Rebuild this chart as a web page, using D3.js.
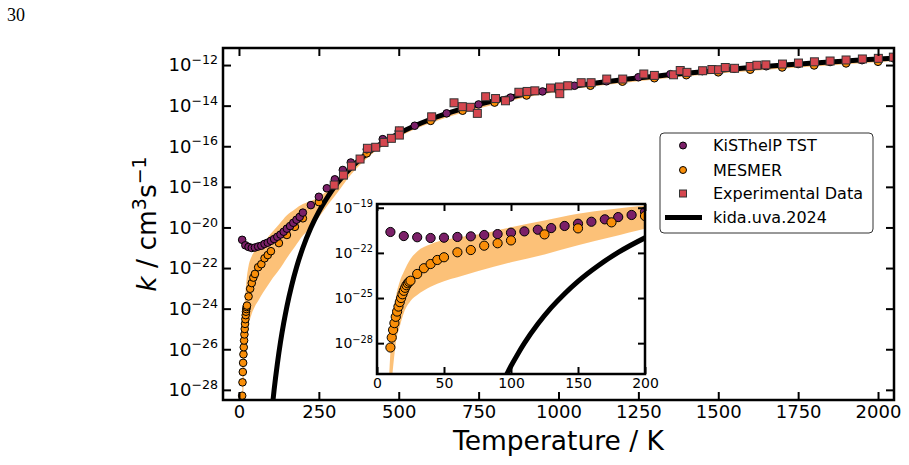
<!DOCTYPE html>
<html>
<head>
<meta charset="utf-8">
<script src="https://cdn.jsdelivr.net/npm/d3@7"></script>
<style>
  body { margin: 0; background: #fff; }
  svg { display: block; }
</style>
</head>
<body>
<svg id="chart" width="909" height="465"></svg>
<script>
// ---- data (temperature in K, rate constant as log10 k) ----
const kisthelpT = [10, 20, 30, 40, 50, 60, 70, 80, 90, 100, 110, 120, 130, 140, 150, 160, 170, 180, 190, 200,
                   225, 250, 275, 300, 325, 350, 400, 450, 500, 550, 650, 750, 850, 950, 1050, 1150, 1250,
                   1350, 1450, 1550, 1650, 1750, 1850, 1950, 2050];
const kisthelpLogK = [-20.61, -20.88, -20.96, -21.01, -20.99, -20.94, -20.9, -20.81, -20.75, -20.66, -20.57, -20.46,
                      -20.35, -20.21, -20.06, -19.93, -19.77, -19.62, -19.48, -19.27,
                      -18.9, -18.49, -18.07, -17.63, -17.17, -16.8, -16.15, -15.65, -15.25, -14.99, -14.38, -13.94,
                      -13.6, -13.3, -13.02, -12.8, -12.6, -12.45, -12.3, -12.18, -12.06, -11.95, -11.85, -11.76, -11.68];

const mesmerT = [10, 11, 12, 13, 14, 15, 16, 17, 18, 19, 20, 21, 22, 23, 24, 25, 30, 35, 40, 45, 50, 60, 70, 80, 90, 100,
                 125, 150, 175, 200, 250, 300, 400, 500, 600, 700, 800, 900, 1000, 1100, 1200, 1300, 1400, 1500,
                 1600, 1700, 1800, 1900, 2000];
const mesmerLogK = [-28.29, -27.63, -27.12, -26.67, -26.25, -25.9, -25.57, -25.27, -25.0, -24.75, -24.52, -24.32,
                    -24.15, -24.02, -23.92, -23.85, -23.4, -23.02, -22.74, -22.47, -22.29, -21.96, -21.81, -21.52,
                    -21.36, -21.17, -20.77, -20.37, -19.97, -19.55, -18.75, -17.85, -16.35, -15.4, -14.75, -14.25,
                    -13.85, -13.5, -13.25, -13.02, -12.82, -12.65, -12.5, -12.36, -12.23, -12.12, -12.02, -11.92, -11.84];

const bandT = [9, 10, 11, 12, 14, 17, 20, 25, 30, 40, 50, 60, 75, 100, 125, 150, 175, 200, 225, 250, 275, 300,
               350, 400, 500, 600, 800, 1000, 1250, 1500, 1750, 2050];
const bandHigh = [-30.3, -28.6, -27.3, -26.4, -25.0, -23.9, -23.25, -22.4, -21.9, -21.42, -21.15, -20.98, -20.78,
                  -20.3, -19.85, -19.4, -19.1, -18.85, -18.7, -18.5, -18.2, -17.85, -17.05, -16.35, -15.38, -14.72,
                  -13.8, -13.2, -12.7, -12.32, -12.04, -11.72];
const bandLow = [-31.5, -31.0, -30.5, -29.6, -28.0, -26.9, -26.0, -25.2, -24.8, -24.25, -23.88, -23.62, -23.22,
                 -22.62, -22.1, -21.5, -20.95, -20.4, -20.0, -19.5, -18.95, -18.45, -17.4, -16.6, -15.55, -14.86,
                 -13.94, -13.3, -12.8, -12.42, -12.12, -11.8];

const expT = [298, 327, 352, 379, 402, 428, 454, 477, 502, 502, 603, 673, 699, 725, 746, 772, 803, 834, 876, 902,
              926, 975, 1003, 1004, 1029, 1071, 1102, 1151, 1201, 1267, 1300, 1360, 1381, 1402, 1451, 1480, 1501,
              1522, 1551, 1600, 1621, 1649, 1701, 1751, 1801, 1850, 1900, 1951, 2001, 2048];
const expLogK = [-17.91, -17.42, -16.98, -16.63, -16.1, -16.05, -15.81, -15.61, -15.24, -15.45, -14.55, -13.86,
                 -14.05, -14.08, -14.38, -13.56, -13.65, -13.76, -13.34, -13.3, -13.27, -13.13, -13.08, -13.41,
                 -13.02, -12.87, -12.87, -12.69, -12.69, -12.44, -12.51, -12.48, -12.27, -12.36, -12.28, -12.22,
                 -12.23, -12.12, -12.16, -12.07, -12.01, -11.99, -11.95, -11.9, -11.84, -11.8, -11.75, -11.7,
                 -11.67, -11.61];

const kidaT = [90, 97, 100, 105, 110, 120, 130, 140, 150, 165, 180, 200, 225, 250, 275, 300, 350, 400, 500, 600,
               700, 800, 1000, 1200, 1400, 1600, 1800, 2000, 2050];
const kidaLogK = [-31.37, -30.04, -29.52, -28.73, -28.0, -26.73, -25.64, -24.71, -23.89, -22.85, -21.97, -21.0,
                  -20.02, -19.22, -18.56, -17.97, -17.07, -16.37, -15.37, -14.67, -14.15, -13.75, -13.15, -12.72,
                  -12.4, -12.12, -11.9, -11.7, -11.66];

const mainXTicks = [0, 250, 500, 750, 1000, 1250, 1500, 1750, 2000];
const mainYTicks = [-12, -14, -16, -18, -20, -22, -24, -26, -28];
const insetXTicks = [0, 50, 100, 150, 200];
const insetYTicks = [-19, -22, -25, -28];

const legendLabels = ["KiSThelP TST", "MESMER", "Experimental Data", "kida.uva.2024"];

const PURPLE = "#7b2068";
const ORANGE = "#f98e09";
const RED = "#d5474f";
const FONT = "DejaVu Sans";

const kisthelp = d3.zip(kisthelpT, kisthelpLogK);
const mesmer = d3.zip(mesmerT, mesmerLogK);
const band = d3.zip(bandT, bandLow, bandHigh);
const exper = d3.zip(expT, expLogK);
const kida = d3.zip(kidaT, kidaLogK);

const svg = d3.select("#chart");
const defs = svg.append("defs");

svg.append("text")
   .attr("x", 7).attr("y", 21)
   .attr("font-family", "Liberation Serif")
   .attr("font-size", 18)
   .text("30");

function supLabels(sel, size) {
  sel.selectAll(".tick text").each(function(d) {
    const t = d3.select(this).text(null);
    t.append("tspan").text("10");
    t.append("tspan")
     .attr("dy", -size * 0.4)
     .attr("font-size", size * 0.7)
     .text("\u2212" + Math.round(-Math.log10(d)));
  });
}

function drawPanel(box, xDomain, yDomain, opts) {
  const x = d3.scaleLinear().domain(xDomain).range([box.left, box.right]);
  const y = d3.scaleLog().domain(yDomain.map(v => Math.pow(10, v))).range([box.bottom, box.top]);
  const g = svg.append("g");

  const clipId = "clip-" + opts.name;
  defs.append("clipPath").attr("id", clipId)
      .append("rect")
      .attr("x", box.left).attr("y", box.top)
      .attr("width", box.right - box.left).attr("height", box.bottom - box.top);

  g.append("rect")
   .attr("x", box.left).attr("y", box.top)
   .attr("width", box.right - box.left).attr("height", box.bottom - box.top)
   .attr("fill", "#fff");

  const data = g.append("g").attr("clip-path", "url(#" + clipId + ")");

  const area = d3.area()
    .x(d => x(d[0]))
    .y0(d => y(Math.pow(10, d[1])))
    .y1(d => y(Math.pow(10, d[2])))
    .curve(d3.curveMonotoneX);
  data.append("path").datum(band)
      .attr("d", area)
      .attr("fill", ORANGE)
      .attr("fill-opacity", 0.55);

  const line = d3.line()
    .x(d => x(d[0]))
    .y(d => y(Math.pow(10, d[1])))
    .curve(d3.curveMonotoneX);
  data.append("path").datum(kida)
      .attr("d", line)
      .attr("fill", "none")
      .attr("stroke", "#000")
      .attr("stroke-width", 5);

  const circles = (set, color) => data.append("g").selectAll("circle")
      .data(set).enter().append("circle")
      .attr("cx", d => x(d[0]))
      .attr("cy", d => y(Math.pow(10, d[1])))
      .attr("r", opts.r)
      .attr("fill", color)
      .attr("stroke", "#000")
      .attr("stroke-width", 1);

  if (opts.purpleOnTop) {
    circles(mesmer, ORANGE);
    circles(kisthelp, PURPLE);
  } else {
    circles(kisthelp, PURPLE);
    circles(mesmer, ORANGE);
  }

  const s = opts.r * 2.1;
  data.append("g").selectAll("rect")
      .data(exper).enter().append("rect")
      .attr("x", d => x(d[0]) - s / 2)
      .attr("y", d => y(Math.pow(10, d[1])) - s / 2)
      .attr("width", s).attr("height", s)
      .attr("fill", RED)
      .attr("stroke", "#333")
      .attr("stroke-width", 1);

  // axes, inward ticks on all four sides
  const tl = opts.tick;
  const styleAxis = a => {
    a.select(".domain").remove();
    a.attr("font-family", FONT).attr("font-size", opts.font);
    a.selectAll("line").attr("stroke-width", 2);
  };
  g.append("g").attr("transform", "translate(0," + box.bottom + ")")
   .call(d3.axisBottom(x).tickValues(opts.xTicks).tickFormat(d3.format("d"))
           .tickSizeInner(-tl).tickSizeOuter(0).tickPadding(opts.pad))
   .call(styleAxis);
  g.append("g").attr("transform", "translate(0," + box.top + ")")
   .call(d3.axisTop(x).tickValues(opts.xTicks).tickSizeInner(-tl).tickSizeOuter(0).tickFormat(""))
   .call(styleAxis);
  g.append("g").attr("transform", "translate(" + box.left + ",0)")
   .call(d3.axisLeft(y).tickValues(opts.yTicks.map(v => Math.pow(10, v))).tickSizeInner(-tl).tickSizeOuter(0).tickPadding(opts.pad))
   .call(styleAxis)
   .call(a => supLabels(a, opts.font));
  g.append("g").attr("transform", "translate(" + box.right + ",0)")
   .call(d3.axisRight(y).tickValues(opts.yTicks.map(v => Math.pow(10, v))).tickSizeInner(-tl).tickSizeOuter(0).tickFormat(""))
   .call(styleAxis);

  g.append("rect")
   .attr("x", box.left).attr("y", box.top)
   .attr("width", box.right - box.left).attr("height", box.bottom - box.top)
   .attr("fill", "none")
   .attr("stroke", "#000")
   .attr("stroke-width", 2.5);
  return g;
}

drawPanel({left: 223, right: 894, top: 48, bottom: 400}, [-50, 2050], [-28.5, -11.16],
          {name: "main", r: 3.8, tick: 8, font: 18, pad: 5, xTicks: mainXTicks, yTicks: mainYTicks, purpleOnTop: true});

drawPanel({left: 377, right: 645, top: 204, bottom: 374}, [0, 200], [-30.05, -18.75],
          {name: "inset", r: 4.6, tick: 7, font: 14, pad: 4, xTicks: insetXTicks, yTicks: insetYTicks, purpleOnTop: false});

// axis titles
svg.append("text")
   .attr("x", 558.5).attr("y", 450)
   .attr("text-anchor", "middle")
   .attr("font-family", FONT).attr("font-size", 26.5)
   .text("Temperature / K");

const yl = svg.append("text")
   .attr("transform", "translate(156,224) rotate(-90)")
   .attr("text-anchor", "middle")
   .attr("font-family", FONT).attr("font-size", 26.5);
yl.append("tspan").attr("font-style", "italic").text("k");
yl.append("tspan").text(" / cm");
yl.append("tspan").attr("dy", -10).attr("font-size", 19).text("3");
yl.append("tspan").attr("dy", 10).text("s");
yl.append("tspan").attr("dy", -10).attr("font-size", 19).text("\u22121");

// legend
const lg = svg.append("g").attr("transform", "translate(660,133)");
lg.append("rect")
  .attr("width", 213).attr("height", 100).attr("rx", 4)
  .attr("fill", "#fff").attr("stroke", "#333").attr("stroke-width", 1);
const rowY = [12.5, 37, 60.5, 84.5];
lg.selectAll("text").data(legendLabels).enter().append("text")
  .attr("x", 53).attr("y", (d, i) => rowY[i]).attr("dy", "0.35em")
  .attr("font-family", FONT).attr("font-size", 16)
  .text(d => d);
lg.append("circle").attr("cx", 23).attr("cy", rowY[0]).attr("r", 3.5)
  .attr("fill", PURPLE).attr("stroke", "#000").attr("stroke-width", 1);
lg.append("circle").attr("cx", 23).attr("cy", rowY[1]).attr("r", 3.5)
  .attr("fill", ORANGE).attr("stroke", "#000").attr("stroke-width", 1);
lg.append("rect").attr("x", 19.5).attr("y", rowY[2] - 3.5).attr("width", 7).attr("height", 7)
  .attr("fill", RED).attr("stroke", "#333").attr("stroke-width", 1);
lg.append("line").attr("x1", 5).attr("x2", 42).attr("y1", rowY[3]).attr("y2", rowY[3])
  .attr("stroke", "#000").attr("stroke-width", 5);
</script>
</body>
</html>
